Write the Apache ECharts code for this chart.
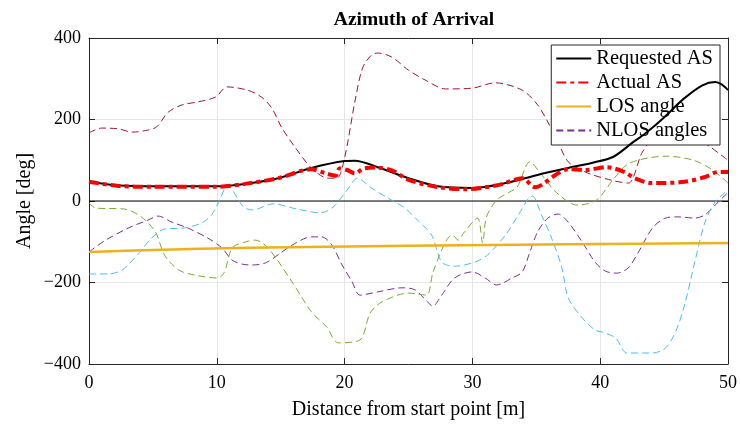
<!DOCTYPE html>
<html>
<head>
<meta charset="utf-8">
<script src="https://cdn.jsdelivr.net/npm/echarts@6/dist/echarts.min.js"></script>
<style>
  html, body { margin: 0; padding: 0; background: #fff; }
  #aoa { width: 741px; height: 430px; }
</style>
</head>
<body>
<div id="aoa"></div>
<script>
// [distance m, angle deg]
var requestedAS = [[0,47],[1,43],[2.3,38],[5,36],[10,36],[12.2,42],[14.8,56],[17.4,81],[20,98],[20.8,99],[22.6,83],[25,56],[27.3,36],[30,32],[32.6,44],[35.1,64],[37.5,81],[39.4,94],[41,108],[42.6,145],[43.5,165],[45,205],[46.5,250],[48,284],[49,292],[49.5,286],[50,272]];
var actualAS = [[0,47],[2.3,37],[5,35],[10,35],[12.2,42],[14.8,56],[17.4,78],[18.5,68],[19.3,62],[19.6,80],[20.2,76],[20.8,68],[21.5,80],[22.5,82],[23.7,75],[25,52],[27.3,34],[29.4,29],[32,39],[33.9,56],[34.9,34],[35.4,39],[36.5,64],[37.5,78],[38.8,76],[40.5,83],[41.9,71],[42.7,56],[44,44],[46.6,47],[48.2,59],[49.2,71],[50,71]];
var losAngle = [[0,-125],[5,-120],[12.5,-115],[25,-110],[37.5,-106],[50,-103]];
var nlos1 = [[0,-125],[1.3,-96],[3.1,-66],[4.6,-47],[5.4,-37],[6.5,-52],[7.7,-66],[9.3,-91],[10.4,-115],[11.2,-145],[12,-155],[12.8,-157],[13.8,-152],[14.8,-132],[15.9,-108],[17.4,-88],[18.2,-88],[19,-108],[19.8,-157],[20.6,-199],[21.2,-231],[22.6,-223],[24.5,-213],[25.5,-218],[26.5,-248],[26.9,-258],[27.6,-231],[28.6,-189],[30,-174],[31,-189],[31.9,-206],[33.1,-189],[33.9,-174],[34.5,-125],[35.1,-76],[35.9,-42],[36.7,-32],[37.5,-52],[38.6,-101],[39.6,-150],[40.4,-172],[41.3,-177],[42.2,-164],[43,-125],[44.1,-66],[45.1,-42],[46.1,-39],[47.4,-42],[48.2,-34],[49,-10],[49.8,15],[50,20]];
var nlos2 = [[0,-5],[0.5,-17],[2.8,-20],[4.1,-39],[5.2,-76],[5.9,-132],[7,-169],[8.3,-182],[10.1,-189],[10.6,-174],[11.2,-115],[12.2,-101],[13,-96],[14,-115],[15.9,-199],[17.4,-272],[18.6,-309],[19.5,-348],[21.2,-341],[22,-275],[22.9,-248],[25,-226],[26.4,-231],[26.9,-177],[27.7,-113],[28.4,-83],[28.9,-96],[29.3,-79],[30.4,-42],[30.8,-103],[31.1,-39],[31.9,2],[32.9,22],[33.5,34],[34.5,96],[35.3,69],[36.6,20],[38.2,-10],[39.7,2],[41,52],[42.3,93],[45.2,110],[47.3,100],[48.8,76],[50,44]];
var nlos3 = [[0,-179],[1.5,-179],[2.6,-169],[3.8,-132],[4.9,-91],[5.9,-69],[7.5,-66],[8.8,-54],[9.6,-34],[10.4,15],[10.8,39],[12.1,-15],[12.8,-22],[14.4,-7],[16.3,-20],[18.1,-29],[19.1,-15],[20.2,27],[21,56],[22.1,32],[23.4,7],[24.7,-17],[25.7,-47],[26.8,-83],[27.6,-150],[28.6,-160],[30.2,-150],[31.2,-132],[32.6,-83],[33.6,-34],[34.4,7],[34.7,12],[35.4,-34],[36.2,-91],[37,-164],[37.5,-238],[38.6,-287],[39.6,-317],[40.1,-321],[41.2,-336],[42.1,-373],[44.1,-373],[45.1,-361],[45.9,-321],[46.6,-255],[47.4,-150],[48.2,-52],[49,-2],[49.8,22],[50,30]];
var nlos4 = [[0,167],[1,179],[2.3,177],[3.4,169],[4.6,174],[5.3,182],[6.2,218],[7.3,236],[8.5,243],[9.9,255],[10.8,280],[12.4,272],[13.5,255],[14.3,228],[15.1,179],[16.1,133],[17.4,81],[18.7,56],[19.4,56],[20,106],[20.8,243],[21.4,326],[22.1,358],[22.6,363],[23.7,353],[25,321],[26.3,297],[27.9,275],[30,277],[31.8,290],[33.9,272],[35.1,236],[35.9,194],[36.7,145],[37.5,96],[39,69],[41,50],[42.2,44],[43.3,120],[44.5,165],[46,175],[47.8,150],[48.6,133],[50,100]];
var zeroLine = [[0,0],[50,0]];
var xTicks = [0, 10, 20, 30, 40, 50];
var yTicks = [-400, -200, 0, 200, 400];

var serif = 'Liberation Serif';
var axisCol = '#262626';

var chart = echarts.init(document.getElementById('aoa'));

function nlosLine(name, color, data) {
  return {
    name: name, type: 'line', data: data, symbol: 'none', smooth: 0.3,
    lineStyle: { color: color, width: 1, type: [7, 4] },
    itemStyle: { color: color }, z: 2
  };
}

var option = {
  animation: false,
  backgroundColor: '#fff',
  title: {
    text: 'Azimuth of Arrival',
    left: 409, top: 5, textAlign: 'center',
    textStyle: { fontFamily: serif, fontWeight: 'bold', fontSize: 19.5, color: '#000' }
  },
  grid: { left: 89, right: 13, top: 38, bottom: 66 },
  legend: {
    data: ['Requested AS', 'Actual AS', 'LOS angle', 'NLOS angles'],
    orient: 'vertical', right: 21, top: 45,
    backgroundColor: '#fff', borderColor: axisCol, borderWidth: 1,
    padding: [3, 7, 4, 4], itemGap: 3, itemWidth: 35, itemHeight: 14,
    itemStyle: { opacity: 0 },
    textStyle: { fontFamily: serif, fontSize: 20.5, color: '#000', lineHeight: 21 }
  },
  xAxis: [{
    type: 'value', min: 0, max: 50, interval: 10,
    name: 'Distance from start point [m]', nameLocation: 'middle', nameGap: 36,
    nameTextStyle: { fontFamily: serif, fontSize: 20, color: '#000' },
    axisLine: { show: true, onZero: false, lineStyle: { color: axisCol } },
    axisTick: { inside: true, length: 6, lineStyle: { color: axisCol } },
    axisLabel: { fontFamily: serif, fontSize: 18, color: '#000', margin: 10,
      formatter: function (v) { return xTicks.indexOf(v) >= 0 ? String(v) : ''; } },
    splitLine: { show: true, lineStyle: { color: '#e6e6e6' } }
  }, {
    type: 'value', min: 0, max: 50, interval: 10, position: 'top',
    axisLine: { show: true, onZero: false, lineStyle: { color: axisCol } },
    axisTick: { inside: true, length: 6, lineStyle: { color: axisCol } },
    axisLabel: { show: false }, splitLine: { show: false }
  }],
  yAxis: [{
    type: 'value', min: -400, max: 400, interval: 200,
    name: 'Angle [deg]', nameLocation: 'middle', nameGap: 54, nameMoveOverlap: false,
    nameTextStyle: { fontFamily: serif, fontSize: 20, color: '#000' },
    axisLine: { show: true, onZero: false, lineStyle: { color: axisCol } },
    axisTick: { show: true, inside: true, length: 6, lineStyle: { color: axisCol } },
    axisLabel: { fontFamily: serif, fontSize: 18, color: '#000', margin: 8,
      formatter: function (v) {
        return yTicks.indexOf(v) >= 0 ? String(v).replace('-', '\u2212') : '';
      } },
    splitLine: { show: true, lineStyle: { color: '#e6e6e6' } }
  }, {
    type: 'value', min: -400, max: 400, interval: 200, position: 'right',
    axisLine: { show: true, onZero: false, lineStyle: { color: axisCol } },
    axisTick: { show: true, inside: true, length: 6, lineStyle: { color: axisCol } },
    axisLabel: { show: false }, splitLine: { show: false }
  }],
  series: [
    { name: 'zero', type: 'line', data: zeroLine, symbol: 'none',
      lineStyle: { color: '#000', width: 1 }, z: 1, silent: true },
    nlosLine('NLOS angles', '#7E2F8E', nlos1),
    nlosLine('NLOS 2', '#77AC30', nlos2),
    nlosLine('NLOS 3', '#4DBEEE', nlos3),
    nlosLine('NLOS 4', '#A2142F', nlos4),
    { name: 'LOS angle', type: 'line', data: losAngle, symbol: 'none', smooth: 0.3,
      lineStyle: { color: '#EDB120', width: 2.5 }, itemStyle: { color: '#EDB120' }, z: 3 },
    { name: 'Requested AS', type: 'line', data: requestedAS, symbol: 'none', smooth: 0.3,
      lineStyle: { color: '#000', width: 2 }, itemStyle: { color: '#000' }, z: 4 },
    { name: 'Actual AS', type: 'line', data: actualAS, symbol: 'none', smooth: 0.3,
      lineStyle: { color: '#FF0000', width: 4, type: [10, 4, 4, 4] }, itemStyle: { color: '#FF0000' }, z: 5 }
  ]
};

chart.setOption(option);
</script>
</body>
</html>
